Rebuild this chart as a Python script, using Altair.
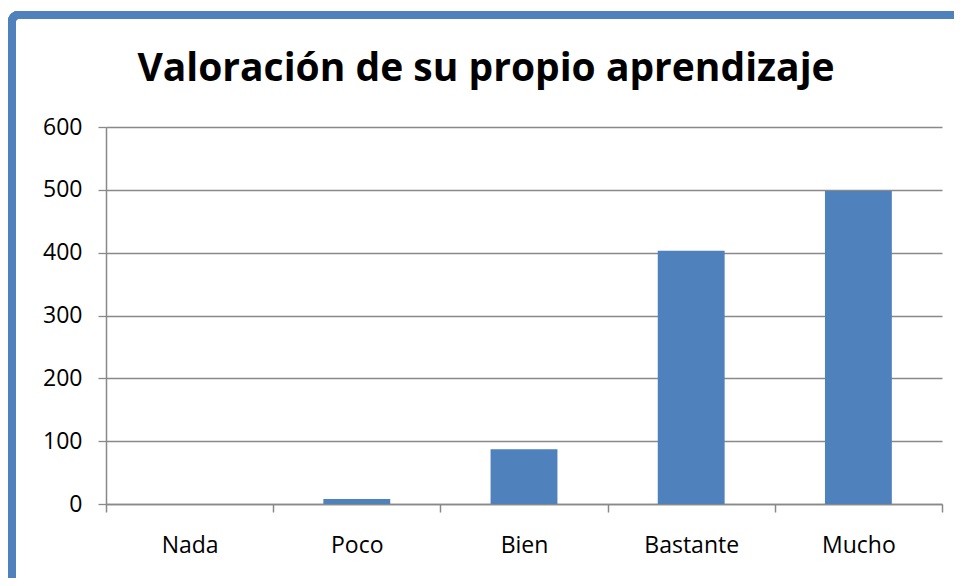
import altair as alt
import pandas as pd

categories = ["Nada", "Poco", "Bien", "Bastante", "Mucho"]
values = [0, 8, 87, 403, 498]
y_ticks = [0, 100, 200, 300, 400, 500, 600]

df = pd.DataFrame({"cat": categories, "val": values})

W, H = 836, 377
FONT = "Open Sans"
GRID = "#898989"
BLUE = "#4F81BD"

bars = alt.Chart(df).mark_bar(
    color=BLUE,
    width=alt.RelativeBandSize(0.4),
).encode(
    x=alt.X("cat:N", sort=categories, title=None,
            scale=alt.Scale(paddingInner=0, paddingOuter=0),
            axis=alt.Axis(labelAngle=0, tickBand="extent", grid=False,
                          ticks=True, tickSize=8, tickColor=GRID, tickWidth=1.5,
                          domainColor=GRID, domainWidth=1.5,
                          labelFont=FONT, labelFontSize=23, labelColor="#000000",
                          labelPadding=22)),
    y=alt.Y("val:Q", title=None,
            scale=alt.Scale(domain=[0, 600], nice=False),
            axis=alt.Axis(values=y_ticks, grid=True, gridColor=GRID, gridWidth=1.3,
                          tickSize=8, tickColor=GRID, tickWidth=1.3,
                          domainColor=GRID, domainWidth=1.5,
                          labelFont=FONT, labelFontSize=23, labelColor="#000000",
                          labelPadding=16)),
)

frame = alt.Chart(df).mark_rect(
    filled=False, stroke=BLUE, strokeWidth=8, cornerRadius=6,
).encode(
    x=alt.value(-94), x2=alt.value(W + 60),
    y=alt.value(-112), y2=alt.value(H + 200),
)

chart = alt.layer(bars, frame).properties(
    width=W, height=H,
    padding={"left": 98, "top": 119, "right": 12, "bottom": 74},
    autosize=alt.AutoSizeParams(type="none"),
    background="white",
    title=alt.TitleParams(
        "Valoración de su propio aprendizaje",
        font=FONT, fontSize=39, fontWeight="bold", color="#000000",
        anchor="middle", frame="group", dx=-38, offset=0, dy=109, baseline="alphabetic",
    ),
).configure_view(stroke=None)

chart.save("out.html", embed_options={"renderer": "svg", "actions": False})
